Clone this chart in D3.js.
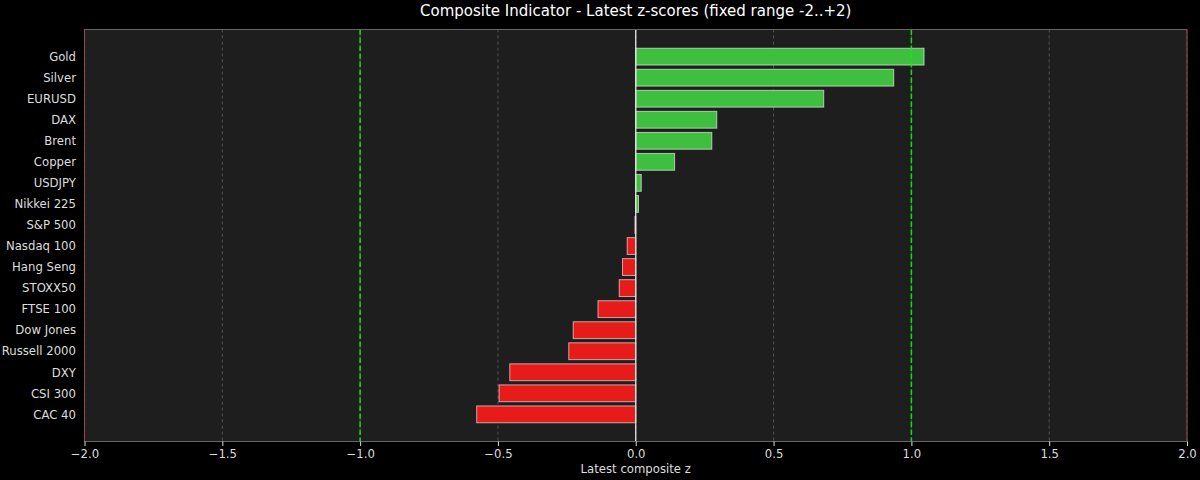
<!DOCTYPE html>
<html><head><meta charset="utf-8">
<script src="https://cdn.jsdelivr.net/npm/d3@7"></script>
<style>
html,body{margin:0;padding:0;background:#000;}
svg{display:block;font-family:"DejaVu Sans",sans-serif;}
</style></head>
<body><svg id="c" width="1200" height="480"></svg>
<script>
const categories = ["Gold","Silver","EURUSD","DAX","Brent","Copper","USDJPY","Nikkei 225","S&P 500","Nasdaq 100","Hang Seng","STOXX50","FTSE 100","Dow Jones","Russell 2000","DXY","CSI 300","CAC 40"];
const values = [1.046,0.936,0.682,0.294,0.276,0.141,0.020,0.010,-0.003,-0.031,-0.048,-0.060,-0.137,-0.227,-0.243,-0.457,-0.496,-0.577];
const xTicks = [-2.0,-1.5,-1.0,-0.5,0.0,0.5,1.0,1.5,2.0];
const bandLines = [-1,1];
const limitLines = [-2,2];
const title = "Composite Indicator - Latest z-scores (fixed range -2..+2)";
const xLabel = "Latest composite z";

const svg = d3.select("#c");
const m = {l:84.5, r:1187, t:29.5, b:441.5};
const x = d3.scaleLinear().domain([-2,2]).range([m.l,m.r]);
const n = categories.length;
const y = d3.scaleLinear().domain([-1.29, n-1+1.29]).range([m.t,m.b]);
const bh = y(0.4)-y(-0.4);
const fs = 11.7;

svg.append("rect").attr("width",1200).attr("height",480).attr("fill","#000");
svg.append("rect").attr("x",m.l).attr("y",m.t).attr("width",m.r-m.l).attr("height",m.b-m.t).attr("fill","#1e1e1e");

// grid
svg.append("g").selectAll("line").data(xTicks.filter(t=>Math.abs(t)!==2)).join("line")
  .attr("x1",d=>x(d)).attr("x2",d=>x(d)).attr("y1",m.t).attr("y2",m.b)
  .attr("stroke","#5a5a5a").attr("stroke-width",0.9).attr("stroke-dasharray","3,3");

// bars
svg.append("g").selectAll("rect").data(values).join("rect")
  .attr("x",d=>x(Math.min(0,d))).attr("width",d=>Math.abs(x(d)-x(0)))
  .attr("y",(d,i)=>y(i)-bh/2).attr("height",bh)
  .attr("fill",d=>d>=0?"#3fbf3f":"#e81b1b")
  .attr("stroke","rgba(255,255,255,0.6)").attr("stroke-width",1);

// zero line
svg.append("line").attr("x1",x(0)).attr("x2",x(0)).attr("y1",m.t).attr("y2",m.b)
  .attr("stroke","#e6e6e6").attr("stroke-width",1.3);

// band lines
svg.append("g").selectAll("line").data(bandLines).join("line")
  .attr("x1",d=>x(d)).attr("x2",d=>x(d)).attr("y1",m.t).attr("y2",m.b)
  .attr("stroke","#10f010").attr("stroke-opacity",0.9).attr("stroke-width",1.5).attr("stroke-dasharray","5.5,2.5");

// spines
svg.append("rect").attr("x",m.l).attr("y",m.t).attr("width",m.r-m.l).attr("height",m.b-m.t)
  .attr("fill","none").attr("stroke","#666").attr("stroke-width",1);

// limit lines
svg.append("g").selectAll("line").data(limitLines).join("line")
  .attr("x1",d=>x(d)).attr("x2",d=>x(d)).attr("y1",m.t).attr("y2",m.b)
  .attr("stroke","#c03030").attr("stroke-opacity",0.7).attr("stroke-width",1).attr("stroke-dasharray","4,2");

// x axis
const xa = svg.append("g").attr("transform",`translate(0,${m.b})`)
  .call(d3.axisBottom(x).tickValues(xTicks).tickFormat(d=>d.toFixed(1).replace("-","\u2212")).tickSize(4.5).tickPadding(4));
xa.select(".domain").remove();
xa.selectAll("line").attr("stroke","#ddd");
xa.selectAll("text").attr("fill","#ddd").attr("font-size",fs).attr("font-family","DejaVu Sans");

// y axis
const ya = svg.append("g").attr("transform",`translate(${m.l},0)`)
  .call(d3.axisLeft(y).tickValues(d3.range(n)).tickFormat(i=>categories[i]).tickSize(0).tickPadding(8.5));
ya.select(".domain").remove();
ya.selectAll("text").attr("fill","#ddd").attr("font-size",fs).attr("font-family","DejaVu Sans");

svg.append("text").attr("x",(m.l+m.r)/2).attr("y",10.5).attr("text-anchor","middle").attr("dominant-baseline","central")
  .attr("fill","#fff").attr("font-size",15).text(title);
svg.append("text").attr("x",(m.l+m.r)/2).attr("y",469).attr("text-anchor","middle").attr("dominant-baseline","central")
  .attr("fill","#ddd").attr("font-size",fs).text(xLabel);
</script></body></html>
